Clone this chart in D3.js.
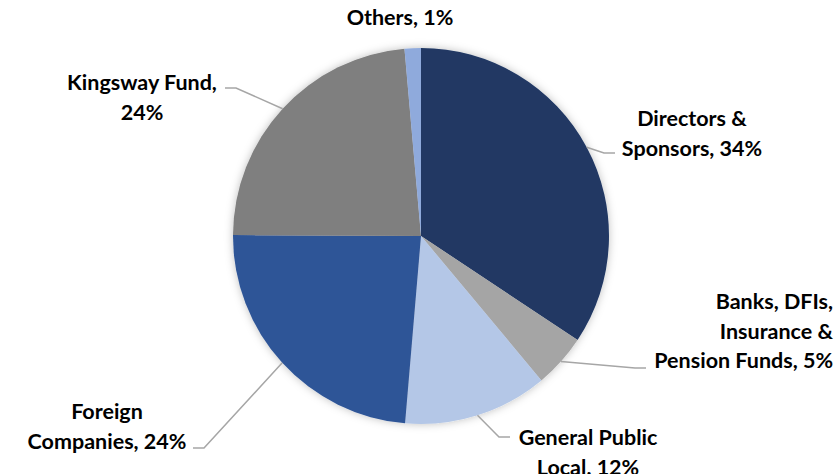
<!DOCTYPE html>
<html>
<head>
<meta charset="utf-8">
<script src="https://cdn.jsdelivr.net/npm/d3@7"></script>
<style>
  body { margin: 0; background: #fff; }
  text { font-family: Lato, "Open Sans", sans-serif; font-weight: bold; fill: #000; }
</style>
</head>
<body>
<div id="chart"></div>
<script>
// Données
const categories = ["Directors & Sponsors", "Banks, DFIs, Insurance & Pension Funds", "General Public Local", "Foreign Companies", "Kingsway Fund", "Others"];
const values = [34.3, 4.6, 12.4, 23.7, 23.5, 1.4];
const colors = ["#203864", "#a5a5a5", "#b4c7e7", "#2f5597", "#7f7f7f", "#8faadc"];
// lignes de libellé (le pourcentage est ajouté à la fin)
const labelLines = [
  ["Directors &", "Sponsors, "],
  ["Banks, DFIs,", "Insurance &", "Pension Funds, "],
  ["General Public", "Local, "],
  ["Foreign", "Companies, "],
  ["Kingsway Fund,", ""],
  ["Others, "]
];

// Mise en page des libellés
const labelLayout = [
  { x: 692, y: 126, anchor: "middle", lineX: 615, lineY: 153 },
  { x: 833, y: 309, anchor: "end", lineX: 646, lineY: 368 },
  { x: 588, y: 445, anchor: "middle", lineX: 510, lineY: 437 },
  { x: 107, y: 419, anchor: "middle", lineX: 193, lineY: 448 },
  { x: 142, y: 90, anchor: "middle", lineX: 225, lineY: 88 },
  { x: 400, y: 25, anchor: "middle", lineX: null, lineY: null }
];

const width = 839, height = 474;
const cx = 421, cy = 236, radius = 188;
const lineHeight = 29.5;

const svg = d3.select("#chart").append("svg")
  .attr("width", width)
  .attr("height", height);

const defs = svg.append("defs");
const shadow = defs.append("filter").attr("id", "shadow")
  .attr("x", "-20%").attr("y", "-20%").attr("width", "140%").attr("height", "140%");
shadow.append("feDropShadow")
  .attr("dx", 0).attr("dy", 0).attr("stdDeviation", 4)
  .attr("flood-color", "#000").attr("flood-opacity", 0.25);

const g = svg.append("g").attr("transform", `translate(${cx},${cy})`);

const pie = d3.pie().sort(null).value(d => d);
const arcs = pie(values);
const arc = d3.arc().innerRadius(0).outerRadius(radius);
const edgeArc = d3.arc().innerRadius(radius).outerRadius(radius);

g.append("g").attr("filter", "url(#shadow)")
  .selectAll("path")
  .data(arcs)
  .join("path")
  .attr("d", arc)
  .attr("fill", (d, i) => colors[i]);

// Lignes de rappel
arcs.forEach((d, i) => {
  const L = labelLayout[i];
  if (L.lineX === null) return;
  const [ex, ey] = edgeArc.centroid(d);
  const px = cx + ex, py = cy + ey;
  const dir = L.lineX > cx ? -1 : 1;
  const bend = L.lineX + dir * 11;
  svg.append("polyline")
    .attr("points", `${px},${py} ${bend},${L.lineY} ${L.lineX},${L.lineY}`)
    .attr("fill", "none")
    .attr("stroke", "#a6a6a6")
    .attr("stroke-width", 1.5);
});

// Libellés
arcs.forEach((d, i) => {
  const L = labelLayout[i];
  const lines = labelLines[i].slice();
  lines[lines.length - 1] += Math.round(values[i]) + "%";
  const t = svg.append("text")
    .attr("x", L.x)
    .attr("y", L.y)
    .attr("text-anchor", L.anchor)
    .style("font-size", "21.5px");
  lines.forEach((line, j) => {
    t.append("tspan")
      .attr("x", L.x)
      .attr("dy", j === 0 ? 0 : lineHeight)
      .text(line);
  });
});
</script>
</body>
</html>
